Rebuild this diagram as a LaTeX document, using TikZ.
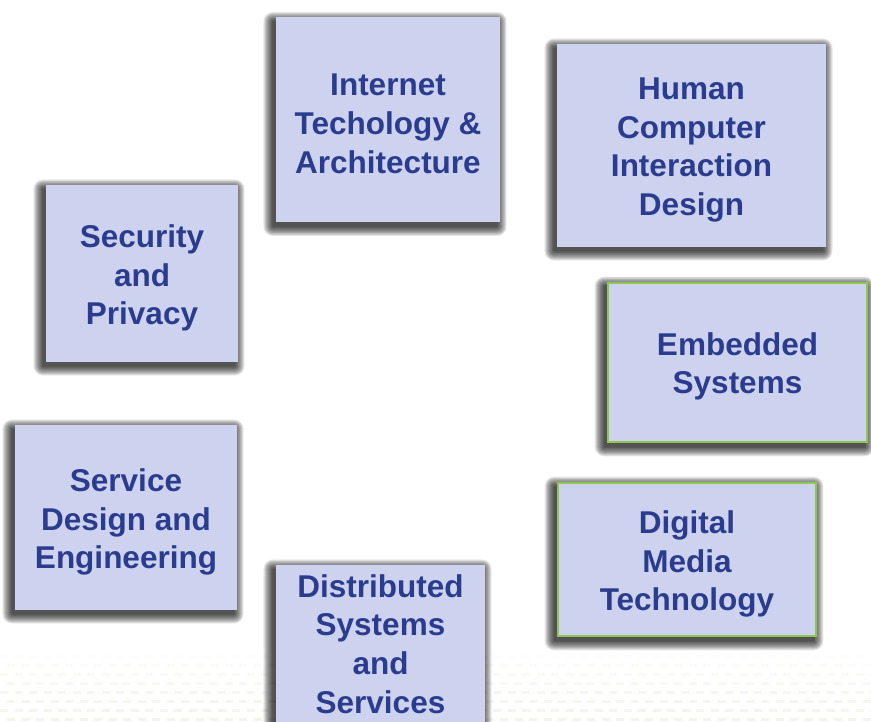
\documentclass[tikz,border=0pt]{standalone}
\usepackage{fontspec}
\setmainfont{Liberation Sans}
\usetikzlibrary{backgrounds}
\definecolor{boxfill}{HTML}{CDD3EE}
\definecolor{boxtext}{HTML}{2B3C8E}
\definecolor{boxgreen}{HTML}{8CC850}
\definecolor{dotcol}{HTML}{EFF0E4}
\tikzset{
  topic/.style={rectangle, fill=boxfill, draw=none, inner sep=0pt},
  greentopic/.style={topic, draw=boxgreen, line width=2pt},
  topictext/.style={text=boxtext, font=\fontsize{31.5}{38.7}\selectfont\bfseries,
    align=center, inner sep=0pt},
  shadowlayer/.style={fill=black, opacity=0.085}
}
\newcommand{\glowshadow}[1]{%
  \foreach \k in {0,...,11}{
    \fill[shadowlayer, rounded corners={0.1pt+\k*0.85pt}]
      ([xshift={-3pt-\k*0.85pt}, yshift={-4pt+\k*0.85pt}]#1.north west)
      rectangle
      ([xshift={-3pt+\k*0.85pt}, yshift={-4pt-\k*0.85pt}]#1.south east);
  }%
}
\begin{document}
\begin{tikzpicture}[x=1pt,y=-1pt]
\useasboundingbox (0,0) rectangle (871,722);
\clip (0,0) rectangle (871,722);
\node[topic, minimum width=224pt, minimum height=205pt] (inet) at (388,120) {};
\node[topic, minimum width=269pt, minimum height=203pt] (hci) at (691.5,145.5) {};
\node[topic, minimum width=192pt, minimum height=177pt] (sec) at (142,273.5) {};
\node[greentopic, minimum width=259pt, minimum height=159pt] (emb) at (737.5,362.5) {};
\node[topic, minimum width=222pt, minimum height=185pt] (svc) at (126,517.5) {};
\node[greentopic, minimum width=258pt, minimum height=153pt] (dmt) at (687,559.5) {};
\node[topic, minimum width=209pt, minimum height=160pt] (dss) at (380.5,645) {};
\begin{scope}[on background layer]
  \fill[white] (0,0) rectangle (871,722);
  % faint dotted background at the bottom
  \foreach \r in {0,...,7}{
    \foreach \c in {0,...,60}{
      \pgfmathsetmacro{\op}{0.15+0.08*\r}
      \fill[dotcol, opacity=\op] ({\c*14.5 + mod(\r,2)*7},{655+\r*9}) rectangle ++(8,2.5);
    }
  }
  \glowshadow{inet}
  \glowshadow{hci}
  \glowshadow{sec}
  \glowshadow{emb}
  \glowshadow{svc}
  \glowshadow{dmt}
  \glowshadow{dss}
\end{scope}
\node[topictext] (inett) at ([yshift=-4pt]inet.center) {Internet\\Techology \&\\Architecture};
\node[topictext] (hcit) at ([yshift=-4.5pt]hci.center) {Human\\Computer\\Interaction\\Design};
\node[topictext] (sect) at ([yshift=-4.5pt]sec.center) {Security\\and\\Privacy};
\node[topictext] (embt) at ([yshift=-4pt]emb.center) {Embedded\\Systems};
\node[topictext] (svct) at ([yshift=-4.5pt]svc.center) {Service\\Design and\\Engineering};
\node[topictext] (dmtt) at ([yshift=-4.5pt]dmt.center) {Digital\\Media\\Technology};
\node[topictext] (dsst) at ([yshift=1pt]dss.center) {Distributed\\Systems\\and\\Services};
\end{tikzpicture}
\end{document}
